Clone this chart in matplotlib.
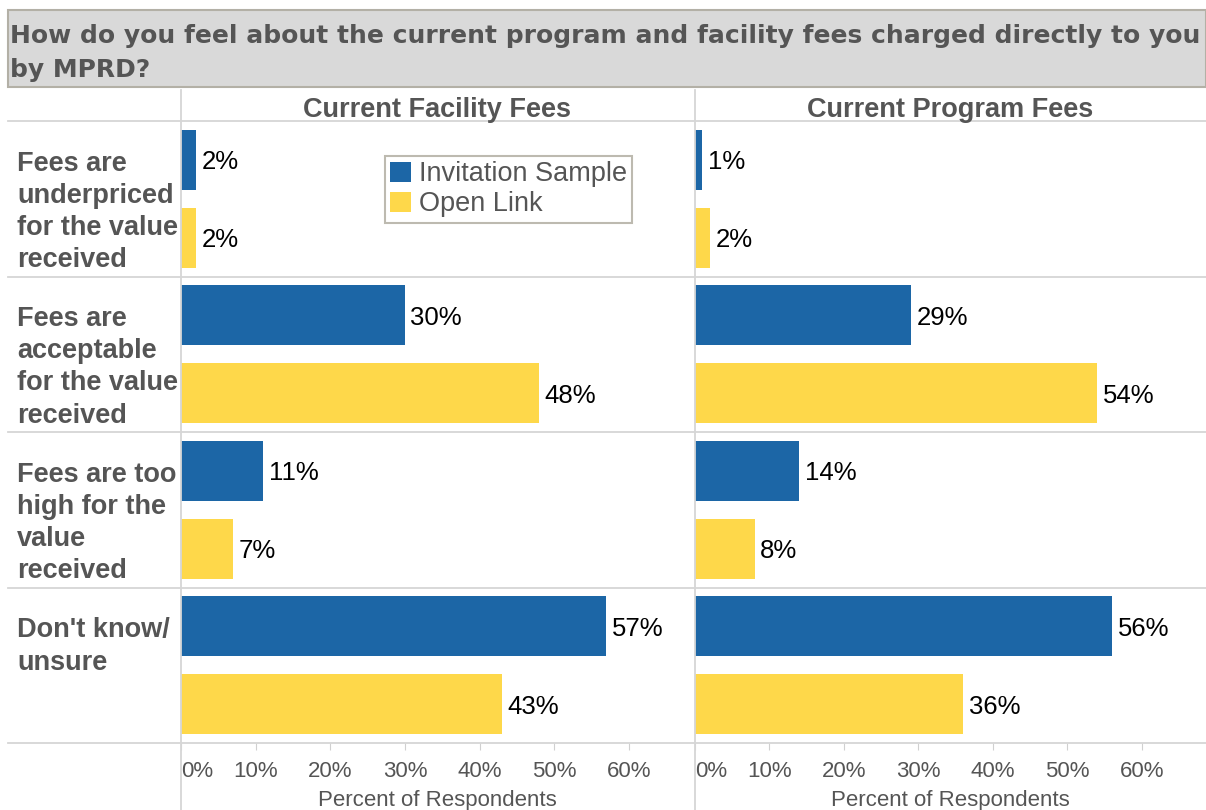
import matplotlib
matplotlib.use("Agg")
import matplotlib.pyplot as plt
from matplotlib.lines import Line2D
from matplotlib.patches import Rectangle, Patch

# ---- data -------------------------------------------------------------
categories = [
    ["Fees are", "underpriced", "for the value", "received"],
    ["Fees are", "acceptable", "for the value", "received"],
    ["Fees are too", "high for the", "value", "received"],
    ["Don't know/", "unsure"],
]
panels = ["Current Facility Fees", "Current Program Fees"]
series = ["Invitation Sample", "Open Link"]
facility_invitation = [2, 30, 11, 57]
facility_open = [2, 48, 7, 43]
program_invitation = [1, 29, 14, 56]
program_open = [2, 54, 8, 36]
tick_values = [0, 10, 20, 30, 40, 50, 60]
tick_labels = ["0%", "10%", "20%", "30%", "40%", "50%", "60%"]
title_lines = [
    "How do you feel about the current program and facility fees charged directly to you",
    "by MPRD?",
]
x_label = "Percent of Respondents"

panel_data = [
    (facility_invitation, facility_open),
    (program_invitation, program_open),
]

# ---- style ------------------------------------------------------------
BLUE = "#1c66a6"
YELLOW = "#fed84a"
GREY_TEXT = "#555555"
RULE = "#d6d6d6"
W, H = 1206, 810
SANS = ["Liberation Sans", "DejaVu Sans"]
NARROW = ["Liberation Sans Narrow", "Liberation Sans", "DejaVu Sans"]

fig = plt.figure(figsize=(W / 100, H / 100), dpi=100)
fig.patch.set_facecolor("white")


def fx(px):
    return px / W


def fy(py):
    return 1 - py / H


# title banner
fig.patches.append(Rectangle((fx(8), fy(87)), fx(W - 8), (87 - 10) / H,
                             transform=fig.transFigure, facecolor="#d9d9d9",
                             edgecolor="#b3b0a6", linewidth=1.5, zorder=0))
for j, line in enumerate(title_lines):
    fig.text(fx(10), fy(33 + 35 * j), line, ha="left", va="center_baseline",
             fontsize=18, fontweight="bold", color=GREY_TEXT,
             family=["DejaVu Sans"])

# axes geometry (pixels)
top, bottom = 121, 743
panel_x = [(181, 693), (695, W)]
XMAX = 68.6

n_slots = 2 * len(categories)
axes = []
for (x0, x1) in panel_x:
    ax = fig.add_axes([fx(x0), fy(bottom), fx(x1 - x0), (bottom - top) / H])
    axes.append(ax)

for k, (ax, (inv, opn)) in enumerate(zip(axes, panel_data)):
    y_inv = [2 * i for i in range(len(categories))]
    y_opn = [2 * i + 1 for i in range(len(categories))]
    ax.barh(y_inv, inv, height=0.77, color=BLUE, zorder=3, label=series[0])
    ax.barh(y_opn, opn, height=0.77, color=YELLOW, zorder=3, label=series[1])
    for y, v in list(zip(y_inv, inv)) + list(zip(y_opn, opn)):
        ax.annotate(f"{v}%", (v, y), xytext=(4, 0), textcoords="offset points",
                    ha="left", va="center_baseline", fontsize=18.5,
                    color="black", family=SANS)
    ax.set_xlim(0, XMAX)
    ax.set_ylim(n_slots - 0.5, -0.5)
    ax.set_yticks([])
    ax.set_xticks(tick_values)
    ax.set_xticklabels(tick_labels, fontsize=16, color=GREY_TEXT, family=NARROW)
    ax.get_xticklabels()[0].set_ha("left")
    ax.tick_params(axis="x", length=5, color="#d0d0d0", pad=8)
    ax.set_xlabel(x_label, fontsize=16, color=GREY_TEXT, family=NARROW,
                  labelpad=6)
    for s in ax.spines.values():
        s.set_visible(False)
    ax.set_facecolor("none")
    # panel header
    fig.text(fx((panel_x[k][0] + panel_x[k][1]) / 2), fy(107), panels[k],
             ha="center", va="center_baseline", fontsize=19.5,
             fontweight="bold", color=GREY_TEXT, family=SANS)

# horizontal rules between categories, across the full width
for i in range(len(categories) + 1):
    ypx = top + i * (bottom - top) / len(categories)
    fig.add_artist(Line2D([fx(8), 1], [fy(ypx), fy(ypx)], color=RULE, lw=1.3,
                          transform=fig.transFigure, zorder=1))

# vertical rules at the start of each panel
for (x0, _) in panel_x:
    fig.add_artist(Line2D([fx(x0), fx(x0)], [fy(90), 0], color=RULE, lw=1.3,
                          transform=fig.transFigure, zorder=1))

# row labels, top-aligned within each category band
group_px = (bottom - top) / len(categories)
for i, lines in enumerate(categories):
    for j, line in enumerate(lines):
        ypx = top + i * group_px + 40 + 32 * j
        fig.text(fx(17), fy(ypx), line, ha="left", va="center_baseline",
                 fontsize=19.5, fontweight="bold", color=GREY_TEXT,
                 family=SANS)

# legend
handles = [Patch(facecolor=BLUE, edgecolor="none"),
           Patch(facecolor=YELLOW, edgecolor="none")]
leg = fig.legend(handles, series, loc="upper left",
                 bbox_to_anchor=(fx(385), fy(156)), bbox_transform=fig.transFigure,
                 frameon=True, fancybox=False, framealpha=1,
                 edgecolor="#bdbab0", borderpad=0.2, labelspacing=0.15,
                 handlelength=0.75, handleheight=0.75, handletextpad=0.3,
                 borderaxespad=0, prop={"family": SANS, "size": 19.5})
leg.get_frame().set_linewidth(1.5)
for t in leg.get_texts():
    t.set_color(GREY_TEXT)

fig.savefig("out.png", dpi=100, facecolor="white")
